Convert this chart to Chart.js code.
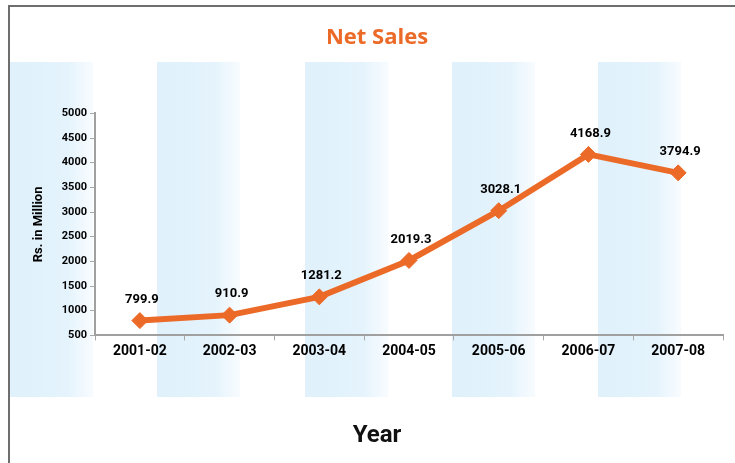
<!DOCTYPE html>
<html>
<head>
<meta charset="utf-8">
<script src="https://cdn.jsdelivr.net/npm/chart.js@4"></script>
<style>
  html, body { margin: 0; padding: 0; background: #fff; }
  #wrap { width: 735px; height: 463px; }
</style>
</head>
<body>
<div id="wrap"><canvas id="salesChart"></canvas></div>
<script>
// data
const years = ['2001-02', '2002-03', '2003-04', '2004-05', '2005-06', '2006-07', '2007-08'];
const netSales = [799.9, 910.9, 1281.2, 2019.3, 3028.1, 4168.9, 3794.9];
const yTicks = [500, 1000, 1500, 2000, 2500, 3000, 3500, 4000, 4500, 5000];

const orange = '#ec6a27';

// decoration: the pale blue stripes behind the plot and the frame
const bandStarts = [10, 157, 305, 452, 598];
const bandWidth = 83;

const backdrop = {
  id: 'backdrop',
  beforeDraw(chart) {
    const ctx = chart.ctx;
    ctx.save();
    ctx.fillStyle = '#fff';
    ctx.fillRect(0, 0, chart.width, chart.height);
    bandStarts.forEach(x0 => {
      const g = ctx.createLinearGradient(x0, 0, x0 + bandWidth, 0);
      g.addColorStop(0, 'rgba(224,241,251,1)');
      g.addColorStop(0.7, 'rgba(228,243,252,1)');
      g.addColorStop(1, 'rgba(242,249,254,0.6)');
      ctx.fillStyle = g;
      ctx.fillRect(x0, 62, bandWidth, 335);
    });
    // frame
    ctx.strokeStyle = '#6e6e6e';
    ctx.lineWidth = 2;
    ctx.beginPath();
    ctx.moveTo(9, 463);
    ctx.lineTo(9, 6);
    ctx.lineTo(735, 6);
    ctx.stroke();
    ctx.restore();
  }
};

const valueLabels = {
  id: 'valueLabels',
  afterDatasetsDraw(chart) {
    const ctx = chart.ctx;
    const meta = chart.getDatasetMeta(0);
    ctx.save();
    ctx.font = 'bold 13px Roboto';
    ctx.fillStyle = '#000';
    ctx.textAlign = 'center';
    ctx.textBaseline = 'middle';
    meta.data.forEach((pt, i) => {
      ctx.fillText(netSales[i].toFixed(1), pt.x + 2, pt.y - 21);
    });
    ctx.restore();
  }
};

const chart = new Chart(document.getElementById('salesChart'), {
  type: 'line',
  data: {
    labels: years,
    datasets: [{
      label: 'Net Sales',
      data: netSales,
      borderColor: orange,
      backgroundColor: orange,
      borderWidth: 6,
      tension: 0,
      pointStyle: 'rectRot',
      pointRadius: 8,
      pointBorderWidth: 1,
      clip: false
    }]
  },
  options: {
    responsive: true,
    maintainAspectRatio: false,
    animation: false,
    layout: { padding: { left: 31, right: 12, top: 0, bottom: 0 } },
    plugins: {
      legend: { display: false },
      tooltip: { enabled: false },
      title: {
        display: true,
        text: 'Net Sales',
        color: orange,
        font: { family: 'Open Sans', size: 22, weight: 'bold' },
        padding: { top: 25, bottom: 62 }
      },
      subtitle: {
        display: true,
        position: 'bottom',
        text: 'Year',
        color: '#111',
        font: { family: 'Roboto', size: 24, weight: 'bold' },
        padding: { top: 58, bottom: 13 }
      }
    },
    scales: {
      x: {
        offset: true,
        grid: { offset: true, drawOnChartArea: false, tickLength: 5, color: '#a8a8a8' },
        border: { color: '#a0a0a0', width: 2 },
        ticks: { color: '#000', font: { family: 'Roboto', size: 14, weight: 'bold' }, padding: 3 }
      },
      y: {
        min: yTicks[0],
        max: yTicks[yTicks.length - 1],
        afterBuildTicks: axis => { axis.ticks = yTicks.map(v => ({ value: v })); },
        afterFit: axis => { axis.width = 64; },
        grid: { drawOnChartArea: false, tickLength: 5, color: '#a8a8a8' },
        border: { color: '#a0a0a0', width: 2 },
        ticks: {
          color: '#000',
          font: { family: 'Roboto', size: 11, weight: 'bold' },
          padding: 3,
          callback: value => String(value)
        },
        title: {
          display: true,
          text: 'Rs. in Million',
          color: '#000',
          font: { family: 'Roboto', size: 13, weight: 'bold' },
          padding: 0
        }
      }
    }
  },
  plugins: [backdrop, valueLabels]
});
</script>
</body>
</html>
